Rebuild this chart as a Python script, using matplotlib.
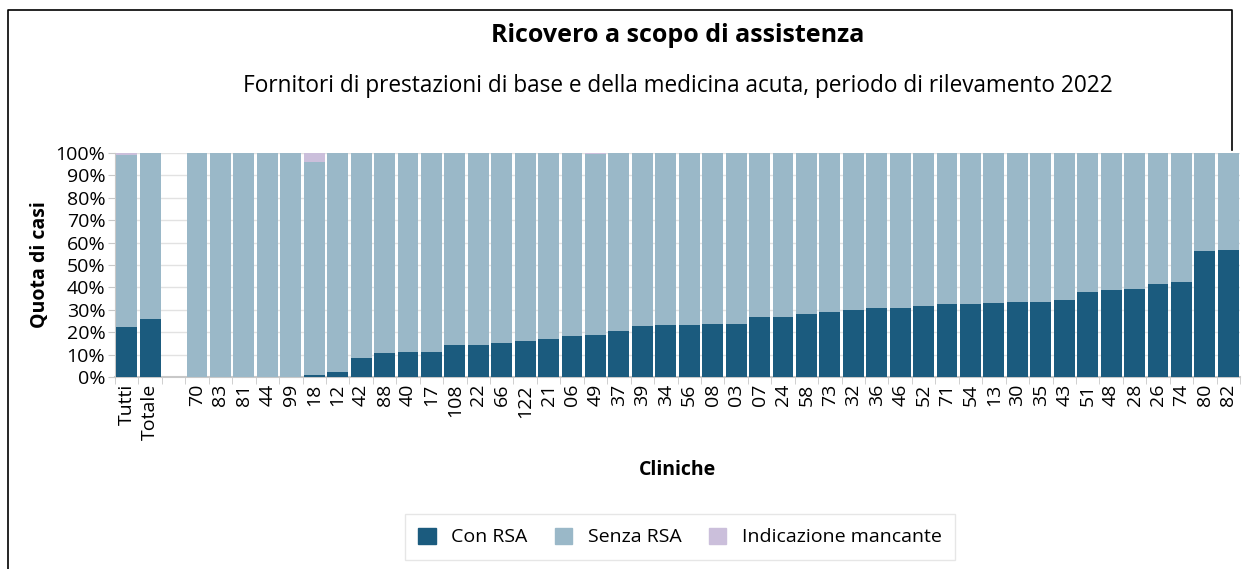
import matplotlib.pyplot as plt
import numpy as np
from matplotlib.patches import Patch
from matplotlib.lines import Line2D
from matplotlib.ticker import FixedLocator

plt.rcParams["font.family"] = ["Open Sans", "DejaVu Sans"]

cliniche = ["Tutti", "Totale", "", "70", "83", "81", "44", "99", "18", "12",
            "42", "88", "40", "17", "108", "22", "66", "122", "21", "06",
            "49", "37", "39", "34", "56", "08", "03", "07", "24", "58",
            "73", "32", "36", "46", "52", "71", "54", "13", "30", "35",
            "43", "51", "48", "28", "26", "74", "80", "82"]
con_rsa = [22.1, 26.1, 0, 0, 0, 0, 0, 0, 1.0, 2.4,
           8.4, 10.9, 11.0, 11.3, 14.2, 14.5, 15.1, 16.1, 16.9, 18.4,
           18.8, 20.7, 22.7, 23.2, 23.4, 23.6, 23.7, 26.7, 27.0, 28.2,
           29.0, 29.7, 30.6, 30.8, 31.5, 32.6, 32.8, 33.0, 33.3, 33.6,
           34.3, 37.8, 38.7, 39.4, 41.5, 42.2, 56.1, 56.9]
mancante = [0.8, 0, 0, 0, 0, 0, 0, 0, 3.9, 0,
            0, 0, 0, 0, 0, 0, 0, 0, 0, 0,
            0.3, 0, 0, 0, 0, 0, 0, 0, 0, 0,
            0, 0, 0, 0, 0, 0, 0, 0, 0.2, 0,
            0, 0, 0, 0, 0, 0, 0, 0]
vuoto = [2]  # separatore senza dati

con_rsa = np.array(con_rsa)
mancante = np.array(mancante)
senza_rsa = 100 - con_rsa - mancante
senza_rsa[vuoto] = 0

c_con = "#1b5b7e"
c_senza = "#9ab8c8"
c_manc = "#cbbfdb"

fig = plt.figure(figsize=(12.42, 5.69), dpi=100)
# cornice
X = lambda px: px / 1242
Y = lambda py: 1 - py / 569
fig.lines.append(Line2D([X(8), X(8), X(1232), X(1232)], [0, Y(10), Y(10), Y(150)],
                        transform=fig.transFigure, color="black", linewidth=1.2))

ax = fig.add_axes([X(115), Y(377), X(1125), 224 / 569])
x = np.arange(len(cliniche))
w = 0.89
ax.bar(x, con_rsa, w, color=c_con, label="Con RSA", zorder=3)
ax.bar(x, senza_rsa, w, bottom=con_rsa, color=c_senza, label="Senza RSA", zorder=3)
ax.bar(x, mancante, w, bottom=con_rsa + senza_rsa, color=c_manc,
       label="Indicazione mancante", zorder=3)

ax.set_xlim(-0.5, len(cliniche) - 0.5)
ax.set_ylim(0, 100)
ax.set_yticks(np.arange(0, 101, 10))
ax.set_yticklabels([f"{v}%" for v in range(0, 101, 10)], fontsize=14)
ax.set_xticks(x)
ax.set_xticklabels(cliniche, rotation=90, fontsize=14)
ax.xaxis.set_minor_locator(FixedLocator(np.arange(-0.5, len(cliniche), 1)))
ax.tick_params(axis="x", which="major", length=0, pad=5)
ax.tick_params(axis="x", which="minor", length=5, color="#c8c8c8")
ax.tick_params(axis="y", length=5, color="#c8c8c8", pad=2)
ax.grid(axis="y", color="#e2e2e2", linewidth=1, zorder=0)
for s in ["top", "right"]:
    ax.spines[s].set_visible(False)
ax.spines["left"].set_color("#c8c8c8")
ax.spines["bottom"].set_color("#c8c8c8")
ax.spines["bottom"].set_linewidth(1.5)

ax.set_ylabel("Quota di casi", fontsize=14, fontweight="bold", labelpad=4)
ax.set_xlabel("Cliniche", fontsize=14, fontweight="bold", labelpad=14)

fig.text(X(678), Y(35), "Ricovero a scopo di assistenza",
         ha="center", va="center", fontsize=18, fontweight="bold")
fig.text(X(678), Y(86),
         "Fornitori di prestazioni di base e della medicina acuta, periodo di rilevamento 2022",
         ha="center", va="center", fontsize=16.3)

handles = [Patch(color=c_con), Patch(color=c_senza), Patch(color=c_manc)]
leg = fig.legend(handles, ["Con RSA", "Senza RSA", "Indicazione mancante"],
                 loc="center", bbox_to_anchor=(X(680), Y(537)),
                 ncol=3, fontsize=14, frameon=True, fancybox=False,
                 handlelength=0.9, handleheight=0.9, columnspacing=1.4,
                 handletextpad=0.8, borderpad=0.7)
leg.get_frame().set_edgecolor("#e0e0e0")
leg.get_frame().set_linewidth(1)

fig.savefig("out.png", dpi=100)
